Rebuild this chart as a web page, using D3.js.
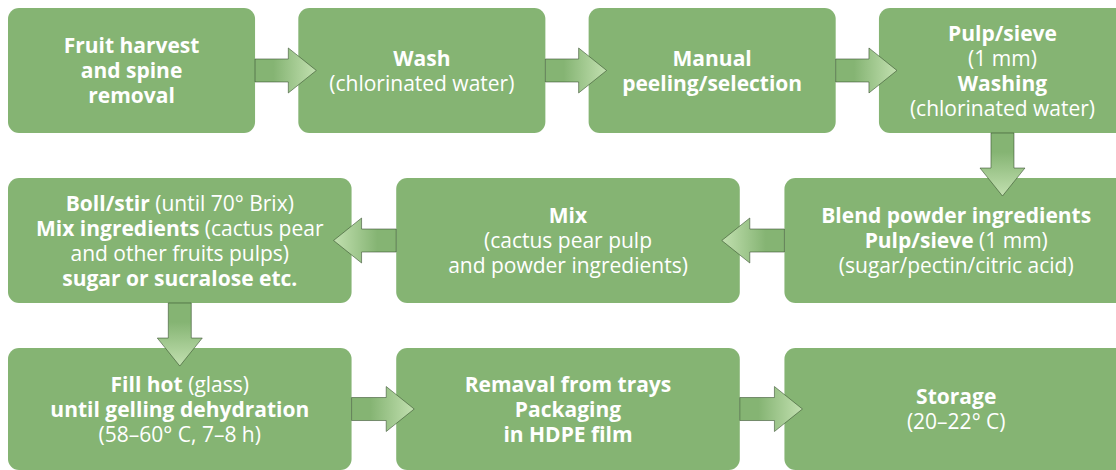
<!DOCTYPE html>
<html>
<head>
<meta charset="utf-8">
<script src="https://cdn.jsdelivr.net/npm/d3@7"></script>
<style>
  html, body { margin: 0; padding: 0; background: #fff; }
  svg { display: block; }
</style>
</head>
<body>
<svg id="chart" width="1116" height="470"></svg>
<script>
// process steps, read left-to-right / snake order
var stepRows = [0, 0, 0, 0, 1, 1, 1, 2, 2, 2];
var stepCols = [0, 1, 2, 3, 2, 1, 0, 0, 1, 2];

// each line is a list of [text, bold]
var stepLines = [
  [[["Fruit harvest", 1]], [["and spine", 1]], [["removal", 1]]],
  [[["Wash", 1]], [["(chlorinated water)", 0]]],
  [[["Manual", 1]], [["peeling/selection", 1]]],
  [[["Pulp/sieve", 1]], [["(1 mm)", 0]], [["Washing", 1]], [["(chlorinated water)", 0]]],
  [[["Blend powder ingredients", 1]], [["Pulp/sieve", 1], [" (1 mm)", 0]], [["(sugar/pectin/citric acid)", 0]]],
  [[["Mix", 1]], [["(cactus pear pulp", 0]], [["and powder ingredients)", 0]]],
  [[["Boll/stir", 1], [" (until 70\u00b0 Brix)", 0]], [["Mix ingredients", 1], [" (cactus pear", 0]], [["and other fruits pulps)", 0]], [["sugar or sucralose etc.", 1]]],
  [[["Fill hot", 1], [" (glass)", 0]], [["until gelling dehydration", 1]], [["(58\u201360\u00b0 C, 7\u20138 h)", 0]]],
  [[["Remaval from trays", 1]], [["Packaging", 1]], [["in HDPE film", 1]]],
  [[["Storage", 1]], [["(20\u201322\u00b0 C)", 0]]]
];

var links = [[0, 1], [1, 2], [2, 3], [3, 4], [4, 5], [5, 6], [6, 7], [7, 8], [8, 9]];

var W = 1116, H = 470;
var boxColor = "#85b473";
var lineH = 25;

var svg = d3.select("#chart");

// layout scales
var xTop = d3.scaleBand().domain([0, 1, 2, 3]).range([8, 1126]).paddingInner(0.149).paddingOuter(0);
var xLow = d3.scaleBand().domain([0, 1, 2]).range([8, 1128]).paddingInner(0.115).paddingOuter(0);
var yRow = d3.scaleBand().domain([0, 1, 2]).range([8, 473]).paddingInner(0.265).paddingOuter(0);

var boxes = stepRows.map(function (r, i) {
  var xs = r == 0 ? xTop : xLow;
  var x0 = xs(stepCols[i]), y0 = yRow(r);
  var h = Math.min(yRow.bandwidth(), H - y0);
  return { x: x0, y: y0, w: xs.bandwidth(), h: h, cx: x0 + xs.bandwidth() / 2, cy: y0 + h / 2, lines: stepLines[i] };
});

// gradient for arrows (along local x axis, arrows are rotated)
var defs = svg.append("defs");
var grad = defs.append("linearGradient").attr("id", "arrowGrad")
  .attr("x1", 0).attr("y1", 0).attr("x2", 1).attr("y2", 0);
grad.append("stop").attr("offset", 0).attr("stop-color", boxColor);
grad.append("stop").attr("offset", 0.3).attr("stop-color", boxColor);
grad.append("stop").attr("offset", 1).attr("stop-color", "#c2e0b0");

svg.selectAll("rect.step").data(boxes).enter().append("rect")
  .attr("class", "step")
  .attr("x", function (d) { return d.x; })
  .attr("y", function (d) { return d.y; })
  .attr("width", function (d) { return d.w; })
  .attr("height", function (d) { return d.h; })
  .attr("rx", 11).attr("ry", 11)
  .attr("fill", boxColor);

// text
boxes.forEach(function (b) {
  var n = b.lines.length;
  b.lines.forEach(function (line, k) {
    var t = svg.append("text")
      .attr("x", b.cx)
      .attr("y", b.cy + (k - (n - 1) / 2) * lineH)
      .attr("dy", "0.36em")
      .attr("text-anchor", "middle")
      .attr("fill", "#fff")
      .style("font-family", "'Open Sans', 'Noto Sans', sans-serif")
      .style("font-size", "21px");
    line.forEach(function (seg) {
      t.append("tspan").text(seg[0]).attr("font-weight", seg[1] ? 700 : 400);
    });
  });
});

// arrows
var overlap = 18, headLen = 28, headHalf = 22.5, shaftHalf = 11.5;
links.forEach(function (l) {
  var a = boxes[l[0]], b = boxes[l[1]];
  var x0, y0, len, angle;
  if (stepRows[l[0]] != stepRows[l[1]]) {
    x0 = a.cx; y0 = a.y + a.h; len = b.y - y0 + overlap; angle = 90;
  } else if (b.x > a.x) {
    x0 = a.x + a.w; y0 = a.cy; len = b.x - x0 + overlap; angle = 0;
  } else {
    x0 = a.x; y0 = a.cy; len = x0 - (b.x + b.w) + overlap; angle = 180;
  }
  var pts = [[0, -shaftHalf], [len - headLen, -shaftHalf], [len - headLen, -headHalf], [len, 0],
             [len - headLen, headHalf], [len - headLen, shaftHalf], [0, shaftHalf]];
  svg.append("path")
    .attr("d", d3.line()(pts) + "Z")
    .attr("transform", "translate(" + x0 + "," + y0 + ") rotate(" + angle + ")")
    .attr("fill", "url(#arrowGrad)")
    .attr("stroke", "#2c4526")
    .attr("stroke-opacity", 0.6)
    .attr("stroke-width", 0.9)
    .attr("stroke-linejoin", "miter");
});
</script>
</body>
</html>
